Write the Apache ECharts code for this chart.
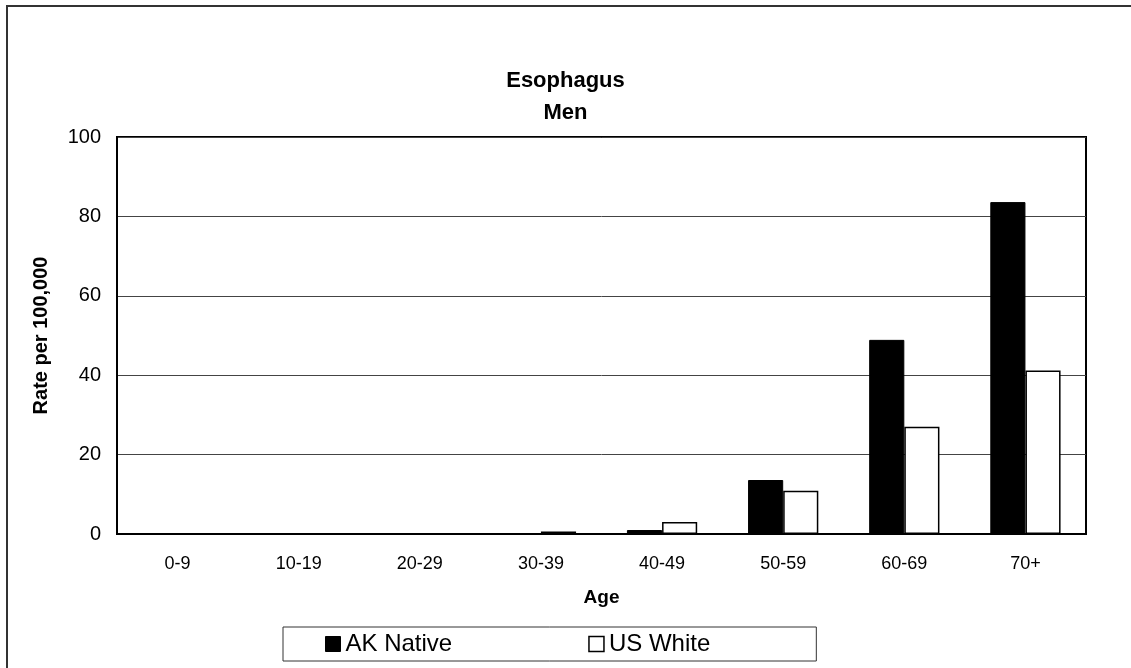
<!DOCTYPE html>
<html>
<head>
<meta charset="utf-8">
<script src="https://cdn.jsdelivr.net/npm/echarts@6/dist/echarts.min.js"></script>
<style>
  html, body { margin: 0; padding: 0; background: #fff; }
  #chart { width: 1131px; height: 668px; }
</style>
</head>
<body>
<div id="chart"></div>
<script>
const ageGroups = ['0-9', '10-19', '20-29', '30-39', '40-49', '50-59', '60-69', '70+']
const akNative = [0, 0, 0, 0, 1.0, 13.6, 48.9, 83.6]
const usWhite = [0, 0, 0, 0.6, 3.0, 10.9, 27.0, 41.2]
const yTicks = { min: 0, max: 100, interval: 20 }

const font = '"Liberation Sans", Arial, sans-serif'
const chart = echarts.init(document.getElementById('chart'))

const option = {
  backgroundColor: '#fff',
  animation: false,
  title: {
    text: 'Esophagus\nMen',
    left: 'center',
    top: 60,
    textStyle: {
      fontFamily: font,
      fontWeight: 'bold',
      fontSize: 22,
      lineHeight: 32,
      color: '#000'
    }
  },
  graphic: [{
    type: 'rect',
    shape: { x: 7, y: 6, width: 1140, height: 700 },
    style: { fill: 'none', stroke: '#333', lineWidth: 2 },
    silent: true
  }],
  legend: {
    data: [
      { name: 'AK Native', itemStyle: { color: '#000', borderColor: '#000', borderWidth: 1 } },
      { name: 'US White', itemStyle: { color: '#fff', borderColor: '#000', borderWidth: 1.5 } }
    ],
    left: 283,
    top: 627,
    orient: 'horizontal',
    icon: 'rect',
    itemWidth: 15,
    itemHeight: 15,
    itemGap: 136,
    padding: [5, 106, 5, 42],
    borderColor: '#333',
    borderWidth: 1,
    textStyle: { fontFamily: font, fontSize: 24, color: '#000' }
  },
  grid: {
    left: 117,
    right: 45,
    top: 137,
    bottom: 134,
    show: true,
    borderColor: '#000',
    borderWidth: 2,
    backgroundColor: 'transparent'
  },
  xAxis: {
    type: 'category',
    data: ageGroups,
    name: 'Age',
    nameLocation: 'middle',
    nameGap: 54,
    nameTextStyle: { fontFamily: font, fontWeight: 'bold', fontSize: 19, color: '#000' },
    axisLine: { lineStyle: { color: '#000', width: 2 } },
    axisTick: { show: false },
    axisLabel: { fontFamily: font, fontSize: 18, color: '#000', margin: 21 }
  },
  yAxis: {
    type: 'value',
    min: yTicks.min,
    max: yTicks.max,
    interval: yTicks.interval,
    name: 'Rate per 100,000',
    nameLocation: 'middle',
    nameGap: 66,
    nameTextStyle: { fontFamily: font, fontWeight: 'bold', fontSize: 20, color: '#000' },
    axisLine: { show: true, lineStyle: { color: '#000', width: 2 } },
    axisTick: { show: false },
    axisLabel: { fontFamily: font, fontSize: 20, color: '#000', margin: 16 },
    splitLine: { lineStyle: { color: '#444', width: 1 } }
  },
  series: [
    {
      name: 'AK Native',
      type: 'bar',
      data: akNative,
      barGap: '0%',
      barCategoryGap: '42%',
      itemStyle: { color: '#000', borderColor: '#000', borderWidth: 1 }
    },
    {
      name: 'US White',
      type: 'bar',
      data: usWhite,
      itemStyle: { color: '#fff', borderColor: '#000', borderWidth: 1.5 }
    }
  ]
}

chart.setOption(option)
</script>
</body>
</html>
